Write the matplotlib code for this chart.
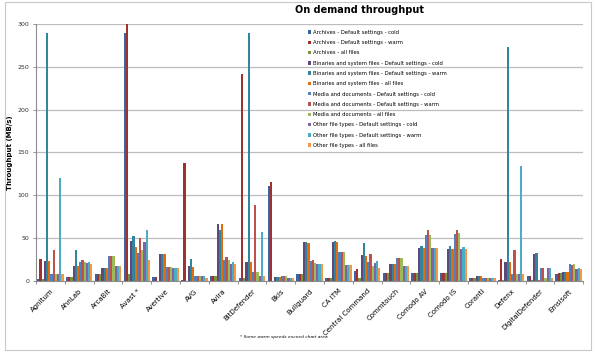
from matplotlib import pyplot as plt
from matplotlib.patches import Rectangle
import numpy as np

vendors = ["Agnitum", "AhnLab", "ArcaBit", "Avast *", "Avertive", "AVG", "Avira",
           "BitDefender", "Bkis", "Bullguard", "CA ITM", "Central Command",
           "Commtouch", "Comodo AV", "Comodo IS", "Coranti", "Defenx",
           "DigitalDefender", "Emsisoft"]

series_names = [
    "Archives - Default settings - cold",
    "Archives - Default settings - warm",
    "Archives - all files",
    "Binaries and system files - Default settings - cold",
    "Binaries and system files - Default settings - warm",
    "Binaries and system files - all files",
    "Media and documents - Default settings - cold",
    "Media and documents - Default settings - warm",
    "Media and documents - all files",
    "Other file types - Default settings - cold",
    "Other file types - Default settings - warm",
    "Other file types - all files",
]

# one value per vendor, in the order of vendors
archives_cold = [2, 5, 8.5, 290, 5, 1, 6, 4, 111, 8.5, 4, 11.5, 9, 9, 9, 4, 1, 5.5, 8]
archives_warm = [26, 5, 8.5, 300, 5, 138, 6, 242, 115, 8.5, 4, 14, 9, 9, 9, 4, 26, 5.5, 9]
archives_all = [2, 5, 8.5, 8, 0.5, 0.5, 6, 3, 0.5, 8.5, 4, 4, 9, 9, 9, 4, 1, 1, 9]
binaries_cold = [23, 17, 15.5, 47, 31, 17, 66, 22, 4.5, 45, 46, 30, 20, 39, 37, 6, 22.5, 31, 10]
binaries_warm = [289, 36, 15.5, 52, 32, 25.5, 59, 289, 4.5, 46, 47, 44, 20, 41, 41, 6, 273, 33, 10]
binaries_all = [23, 17, 15.5, 40, 31, 16, 66, 22, 4.5, 44, 45, 29, 20, 39, 37, 6, 22.5, 1, 10]
media_cold = [8.5, 22, 29.5, 33, 16, 5.5, 24, 10, 5.5, 23, 34, 22.5, 27, 54, 55, 4, 8, 15.5, 20]
media_warm = [36, 24.5, 29.5, 50, 16, 5.5, 28, 89, 5.5, 24, 34, 31, 27, 59, 60, 4, 36, 15.5, 18.5]
media_all = [8.5, 22, 29.5, 36, 16, 5.5, 24, 10, 5.5, 21, 34, 17, 27, 54, 56, 4, 8, 4, 20]
other_cold = [8.5, 21, 17, 45, 15.5, 5.5, 20, 6, 3.5, 20, 19, 21, 17, 39, 37, 3, 8, 15.5, 14]
other_warm = [120, 22, 17, 60, 15.5, 5.5, 22, 57, 3.5, 20, 19, 23, 17, 39, 40, 3, 134, 15.5, 15]
other_all = [8.5, 20, 17, 24, 15.5, 4, 20, 6, 3.5, 20, 19, 15.5, 17, 39, 37, 3, 8, 4, 14]

data = [archives_cold, archives_warm, archives_all,
        binaries_cold, binaries_warm, binaries_all,
        media_cold, media_warm, media_all,
        other_cold, other_warm, other_all]

colors = ["#3A64A0", "#A2302E", "#77933C", "#5F497A", "#31859C", "#E46C0A",
          "#4F81BD", "#C0504D", "#9BBB59", "#8064A2", "#4BACC6", "#F79646"]

fig = plt.figure(figsize=(5.95, 3.52), dpi=100)
ax = fig.add_axes([0.0605, 0.2017, 0.9195, 0.7303])

x = np.arange(len(vendors))
n = len(data)
w = 0.92 / n
for i in range(n):
    # bars above 300 are cut at the top of the chart
    vals = np.minimum(np.array(data[i]), 300)
    ax.bar(x - 0.46 + w * (i + 0.5), vals, width=w, color=colors[i],
           label=series_names[i], linewidth=0, zorder=2)

ax.set_xlim(-0.5, len(vendors) - 0.5)
ax.set_ylim(0, 300)
ax.set_yticks(np.arange(0, 301, 50))
ax.yaxis.grid(True, color="#BDBDBD", linewidth=0.9, zorder=0)
ax.set_axisbelow(True)
ax.tick_params(axis="y", labelsize=4.5, length=2, width=0.6, colors="#808080",
               labelcolor="#333333", pad=3)
ax.set_xticks(x)
ax.set_xticklabels(vendors, rotation=45, ha="right", rotation_mode="anchor",
                   fontsize=5)
ax.set_xticks(np.arange(-0.5, len(vendors), 1), minor=True)
ax.tick_params(axis="x", which="major", length=0, pad=5)
ax.tick_params(axis="x", which="minor", length=2.5, width=0.6, color="#808080")
for s in ["top", "right"]:
    ax.spines[s].set_visible(False)
for s in ["left", "bottom"]:
    ax.spines[s].set_color("#8C8C8C")
    ax.spines[s].set_linewidth(0.8)

ax.set_ylabel("Throughput (MB/s)", fontsize=5, fontweight="bold", labelpad=3)

leg = ax.legend(loc="upper left", bbox_to_anchor=(0.493, 0.985), fontsize=3.8,
                frameon=False, handlelength=0.55, handleheight=0.65,
                handletextpad=0.45, labelspacing=1.0, borderaxespad=0)

fig.text(0.605, 0.972, "On demand throughput", fontsize=7, fontweight="bold",
         ha="center", va="center")
fig.text(0.477, 0.043, "* Some warm speeds exceed chart area", fontsize=3.2,
         style="italic", ha="center", va="center")

fig.patches.append(Rectangle((0.008, 0.005), 0.985, 0.99, transform=fig.transFigure,
                             fill=False, edgecolor="#C8C8C8", linewidth=0.8))

fig.savefig("out.png", dpi=100)
